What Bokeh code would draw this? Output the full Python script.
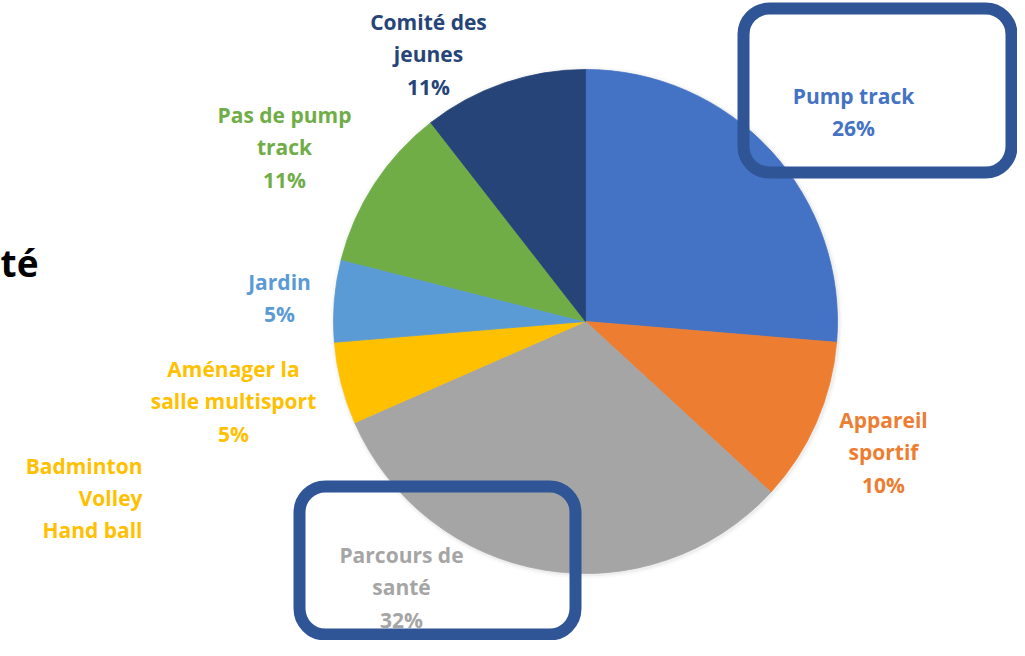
import math
from bokeh.plotting import figure
from bokeh.models import Range1d, ColumnDataSource
from bokeh.core.properties import value
from bokeh.embed import file_html
from bokeh.resources import INLINE

# ---- data ----
categories = ["Pump track", "Appareil sportif", "Parcours de santé",
              "Aménager la salle multisport", "Jardin", "Pas de pump track",
              "Comité des jeunes"]
votes = [25, 10, 30, 5, 5, 10, 10]
pct_labels = ["26%", "10%", "32%", "5%", "5%", "11%", "11%"]
label_lines = [["Pump track"], ["Appareil", "sportif"], ["Parcours de", "santé"],
               ["Aménager la", "salle multisport"], ["Jardin"],
               ["Pas de pump", "track"], ["Comité des", "jeunes"]]
colors = ["#4472C4", "#ED7D31", "#A5A5A5", "#FFC000", "#5B9BD5", "#70AD47", "#264478"]
extra_lines = ["Badminton", "Volley", "Hand ball"]
cut_title = "té"

# ---- layout (image pixel coordinates) ----
W, H = 1017, 640
def Y(img_y):
    return 656 - img_y

TXT_SHIFT = -8  # text baseline correction
cx, cy, R = 585, Y(321), 252
label_x = [853, 883, 401, 233, 279, 284, 428]
label_base = [103, 427, 562, 376, 289, 122, 29]
LINE = 32.5
FONT = value("Open Sans")

p = figure(width=W, height=H, output_backend="svg", toolbar_location=None,
           x_range=Range1d(0, W), y_range=Range1d(Y(H), Y(0)),
           min_border=0, outline_line_color=None)
p.axis.visible = False
p.grid.visible = False
p.background_fill_color = "white"
p.border_fill_color = "white"

total = sum(votes)
starts, ends = [], []
cum = 0
for v in votes:
    a0 = math.pi / 2 - 2 * math.pi * cum / total
    cum += v
    a1 = math.pi / 2 - 2 * math.pi * cum / total
    starts.append(a1)
    ends.append(a0)

# soft shadow
for r, a in [(R + 4, 0.025), (R + 2, 0.04)]:
    p.circle(x=[cx + 1], y=[cy - 1], radius=r, fill_color="black", fill_alpha=a, line_color=None)

src = ColumnDataSource(dict(x=[cx] * len(votes), y=[cy] * len(votes),
                            start=starts, end=ends, color=colors, cat=categories))
p.wedge(x="x", y="y", radius=R, start_angle="start", end_angle="end",
        direction="anticlock", fill_color="color", line_color="color",
        line_width=0.8, source=src)

# labels
tx, ty, tt, tc = [], [], [], []
for i, lines in enumerate(label_lines):
    all_lines = lines + [pct_labels[i]]
    for j, t in enumerate(all_lines):
        tx.append(label_x[i])
        ty.append(Y(label_base[i] + j * LINE + TXT_SHIFT))
        tt.append(t)
        tc.append(colors[i])
p.text(x=tx, y=ty, text=tt, text_color=tc, text_font=FONT, text_font_style="bold",
       text_font_size="21px", text_align="center", text_baseline="alphabetic")

# extra side note
p.text(x=[142] * 3, y=[Y(473 + k * 32 + TXT_SHIFT) for k in range(3)], text=extra_lines,
       text_color=colors[3], text_font=FONT, text_font_style="bold",
       text_font_size="21px", text_align="right", text_baseline="alphabetic")

# title fragment
p.text(x=[38], y=[Y(262)], text=[cut_title], text_color="black", text_font=FONT,
       text_font_style="bold", text_font_size="37px", text_align="right",
       text_baseline="alphabetic")

# highlight boxes
p.quad(left=[743, 299], right=[1011, 575], top=[Y(8), Y(486)], bottom=[Y(172), Y(634)],
       fill_color=None, line_color="#2F5597", line_width=12, border_radius=26)

open("out.html", "w").write(file_html(p, INLINE))
